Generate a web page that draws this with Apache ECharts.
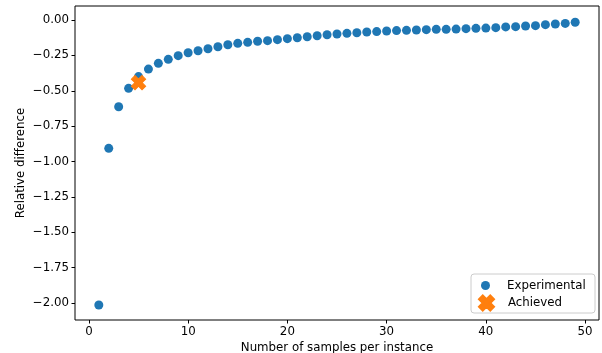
<!DOCTYPE html>
<html>
<head>
<meta charset="utf-8">
<title>Relative difference</title>
<script src="https://cdn.jsdelivr.net/npm/echarts@6/dist/echarts.min.js"></script>
<style>
  html, body { margin: 0; padding: 0; background: #fff; }
  #chart { width: 602px; height: 353px; }
</style>
</head>
<body>
<div id="chart"></div>
<script>
// samples per instance
var samples = [1, 2, 3, 4, 5, 6, 7, 8, 9, 10, 11, 12, 13, 14, 15, 16, 17, 18, 19, 20,
    21, 22, 23, 24, 25, 26, 27, 28, 29, 30, 31, 32, 33, 34, 35, 36, 37, 38, 39, 40,
    41, 42, 43, 44, 45, 46, 47, 48, 49];
// experimental relative difference
var relDiff = [-2.014, -0.907, -0.613, -0.483, -0.400, -0.347, -0.306,
    -0.278, -0.252, -0.231, -0.217, -0.203, -0.189, -0.175, -0.165, -0.158, -0.150,
    -0.146, -0.139, -0.132, -0.125, -0.118, -0.111, -0.104, -0.099, -0.094, -0.090,
    -0.085, -0.082, -0.078, -0.075, -0.073, -0.071, -0.068, -0.066, -0.066, -0.064,
    -0.061, -0.059, -0.057, -0.054, -0.049, -0.047, -0.042, -0.040, -0.033, -0.028,
    -0.024, -0.016];
// achieved point
var achievedX = [5];
var achievedY = [-0.443];
// tick labels
var xTicks = [0, 10, 20, 30, 40, 50];
var yTicks = [-2.0, -1.75, -1.5, -1.25, -1.0, -0.75, -0.5, -0.25, 0.0];

var font = 'DejaVu Sans';
var fs = 11.8;
var xMarker = 'path://M1,0 L2,1 L3,0 L4,1 L3,2 L4,3 L3,4 L2,3 L1,4 L0,3 L1,2 L0,1 Z';

var expData = samples.map(function (s, i) { return [s, relDiff[i]]; });
var achData = achievedX.map(function (s, i) { return [s, achievedY[i]]; });

var myChart = echarts.init(document.getElementById('chart'), null, { renderer: 'canvas' });
var option = {
    animation: false,
    backgroundColor: '#fff',
    textStyle: { fontFamily: font },
    grid: {
        left: 75, right: 3, top: 6, bottom: 33,
        outerBoundsMode: 'none',
        containLabel: false,
        show: true, borderColor: '#000', borderWidth: 1
    },
    xAxis: {
        type: 'value',
        min: -1.4, max: 51.4,
        name: 'Number of samples per instance',
        nameLocation: 'middle',
        nameGap: 21.5,
        nameMoveOverlap: false,
        nameTextStyle: { fontFamily: font, fontSize: fs, color: '#000' },
        splitLine: { show: false },
        axisLine: { show: false, onZero: false },
        axisTick: { show: true, length: 3.5, customValues: xTicks, lineStyle: { color: '#000' } },
        axisLabel: {
            customValues: xTicks, margin: 6, fontFamily: font, fontSize: fs, color: '#000'
        }
    },
    yAxis: {
        type: 'value',
        min: -2.12, max: 0.099,
        name: 'Relative difference',
        nameLocation: 'middle',
        nameGap: 48,
        nameMoveOverlap: false,
        nameTextStyle: { fontFamily: font, fontSize: fs, color: '#000' },
        splitLine: { show: false },
        axisLine: { show: false, onZero: false },
        axisTick: { show: true, length: 3.5, customValues: yTicks, lineStyle: { color: '#000' } },
        axisLabel: {
            customValues: yTicks, margin: 6, fontFamily: font, fontSize: fs, color: '#000',
            formatter: function (v) {
                var s = Math.abs(v).toFixed(2);
                return v < 0 ? '\u2212' + s : s;
            }
        }
    },
    graphic: [{
        type: 'rect',
        z: 3,
        shape: { x: 471, y: 274, width: 124, height: 39, r: 3 },
        style: { fill: 'rgba(255,255,255,0.8)', stroke: '#cccccc', lineWidth: 1 }
    }],
    legend: [{
        data: [{ name: 'Experimental', icon: 'circle' }],
        left: 481, top: 279.5,
        padding: 0,
        itemWidth: 9, itemHeight: 9,
        textStyle: { fontFamily: font, fontSize: fs, color: '#000', padding: [0, 0, 0, 12] }
    }, {
        data: [{ name: 'Achieved', icon: xMarker }],
        left: 478, top: 294.5,
        padding: 0,
        itemWidth: 15, itemHeight: 15,
        textStyle: { fontFamily: font, fontSize: fs, color: '#000', padding: [0, 0, 0, 9] }
    }],
    series: [{
        name: 'Experimental',
        type: 'scatter',
        data: expData,
        symbol: 'circle',
        symbolSize: 9,
        itemStyle: { color: '#1f77b4', opacity: 1 }
    }, {
        name: 'Achieved',
        type: 'scatter',
        data: achData,
        symbol: xMarker,
        symbolSize: 14,
        z: 3,
        itemStyle: { color: '#ff7f0e', opacity: 1, borderColor: '#ff7f0e', borderWidth: 1.2 }
    }]
};
myChart.setOption(option);
</script>
</body>
</html>
